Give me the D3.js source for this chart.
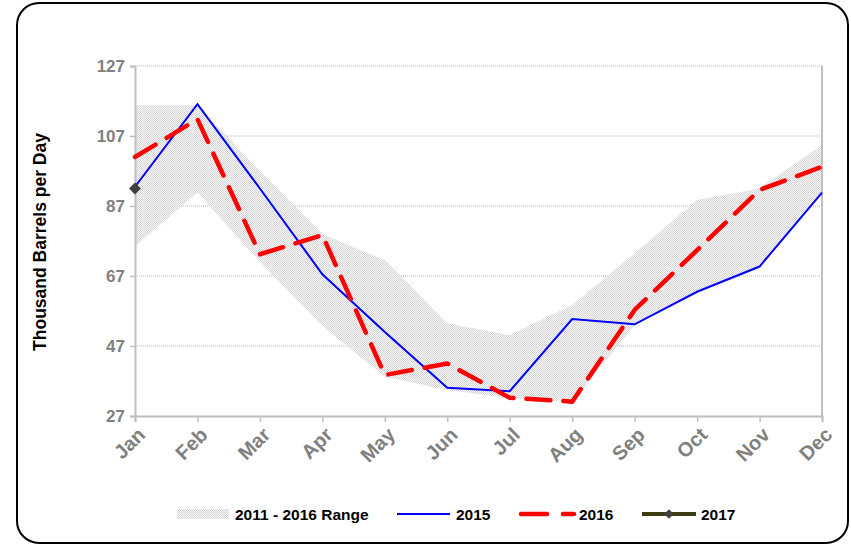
<!DOCTYPE html>
<html>
<head>
<meta charset="utf-8">
<title>Thousand Barrels per Day</title>
<script src="https://d3js.org/d3.v7.min.js"></script>
<style>
  body { margin: 0; background: #fff; }
  text { font-family: "Liberation Sans", Arial, sans-serif; font-weight: bold; }
</style>
</head>
<body>
<script>
// data
var months = ["Jan","Feb","Mar","Apr","May","Jun","Jul","Aug","Sep","Oct","Nov","Dec"];
var rangeLow  = [75.5, 90.9, 71, 52.7, 38.2, 34.4, 32.1, 31, 53, 62.5, 69.7, 90.8];
var rangeHigh = [115.8, 115.8, 97, 79, 71.5, 53.5, 50.1, 58.7, 73.5, 88.7, 92, 104.4];
var y2015 = [92.5, 116.1, 92, 67.5, 51, 35.1, 34.1, 54.7, 53.2, 62.5, 69.7, 90.8];
var y2016 = [101, 111.8, 73.2, 78.7, 38.7, 42, 32.2, 31.1, 57.3, 74.4, 91.6, 98.2];
var y2017 = [92];
var yTicks = [27, 47, 67, 87, 107, 127];

var W = 851, H = 545;
var svg = d3.select("body").append("svg").attr("width", W).attr("height", H);

// outer frame
svg.append("rect").attr("x", 17).attr("y", 3).attr("width", 831).attr("height", 540)
  .attr("rx", 22).attr("fill", "#fff").attr("stroke", "#000").attr("stroke-width", 2);

// pattern for the range band
var defs = svg.append("defs");
var pat = defs.append("pattern").attr("id", "dots").attr("patternUnits", "userSpaceOnUse")
  .attr("width", 2).attr("height", 2);
pat.append("rect").attr("width", 2).attr("height", 2).attr("fill", "#fbfbfb");
pat.append("rect").attr("width", 1).attr("height", 1).attr("fill", "#d2d2d2");
pat.append("rect").attr("x", 1).attr("y", 1).attr("width", 1).attr("height", 1).attr("fill", "#d2d2d2");

var x = d3.scalePoint().domain(months).range([135, 822]);
var y = d3.scaleLinear().domain([27, 127]).range([416, 66]);

// grid
svg.append("g").selectAll("line").data(yTicks.slice(1)).enter().append("line")
  .attr("x1", 135).attr("x2", 822)
  .attr("y1", function(d){ return y(d); }).attr("y2", function(d){ return y(d); })
  .attr("stroke", "#b4b4b4").attr("stroke-width", 1).attr("stroke-dasharray", "1,1");

// range band
var area = d3.area()
  .x(function(d, i){ return x(months[i]); })
  .y0(function(d, i){ return y(rangeLow[i]); })
  .y1(function(d, i){ return y(rangeHigh[i]); });
svg.append("path").datum(months).attr("d", area).attr("fill", "url(#dots)");

// axes
var yAxis = svg.append("g").attr("transform", "translate(135,0)")
  .call(d3.axisLeft(y).tickValues(yTicks).tickSize(5).tickPadding(5).tickFormat(d3.format("d")));
var xAxis = svg.append("g").attr("transform", "translate(0,416)")
  .call(d3.axisBottom(x).tickSize(6).tickPadding(4));
[yAxis, xAxis].forEach(function(a){
  a.select(".domain").attr("stroke", "#bfbfbf").attr("stroke-width", 2);
  a.selectAll(".tick line").attr("stroke", "#bfbfbf").attr("stroke-width", 1.5);
  a.selectAll("text").attr("fill", "#808080").style("font-size", "17px")
    .style("font-family", "'Liberation Sans', Arial, sans-serif").style("font-weight", "bold");
});
xAxis.selectAll("text").attr("text-anchor", "end").attr("y", 0).attr("dy", 0)
  .style("font-size", "20px")
  .attr("transform", "translate(11,20) rotate(-45)");
// right frame of plot
svg.append("line").attr("x1", 822).attr("x2", 822).attr("y1", 66).attr("y2", 416)
  .attr("stroke", "#bfbfbf").attr("stroke-width", 2);

// series lines
var line = d3.line().x(function(d, i){ return x(months[i]); }).y(function(d){ return y(d); });
svg.append("path").datum(y2015).attr("d", line).attr("fill", "none")
  .attr("stroke", "#0000ff").attr("stroke-width", 2);
svg.append("path").datum(y2016).attr("d", line).attr("fill", "none")
  .attr("stroke", "#ff0000").attr("stroke-width", 4.5).attr("stroke-dasharray", "24,13")
  .attr("stroke-linecap", "round").attr("stroke-linejoin", "round");
svg.append("g").selectAll("path").data(y2017).enter().append("path")
  .attr("d", d3.symbol().type(d3.symbolDiamond2).size(90))
  .attr("transform", function(d, i){ return "translate(" + x(months[i]) + "," + y(d) + ")"; })
  .attr("fill", "#404040");

// y title
svg.append("text").attr("transform", "translate(46,242) rotate(-90)")
  .attr("text-anchor", "middle").style("font-size", "17.5px").attr("fill", "#000")
  .text("Thousand Barrels per Day");

// legend
var lg = svg.append("g").attr("transform", "translate(0,514)");
lg.append("rect").attr("x", 177).attr("y", -5).attr("width", 52).attr("height", 10).attr("fill", "url(#dots)");
lg.append("text").attr("x", 235).attr("y", 5.5).style("font-size", "15.5px").text("2011 - 2016 Range");
lg.append("line").attr("x1", 397).attr("x2", 450).attr("y1", 0).attr("y2", 0)
  .attr("stroke", "#0000ff").attr("stroke-width", 2);
lg.append("text").attr("x", 456).attr("y", 5.5).style("font-size", "15.5px").text("2015");
lg.append("line").attr("x1", 521).attr("x2", 574).attr("y1", 0).attr("y2", 0)
  .attr("stroke", "#ff0000").attr("stroke-width", 4.5).attr("stroke-dasharray", "26,16")
  .attr("stroke-linecap", "round");
lg.append("text").attr("x", 579).attr("y", 5.5).style("font-size", "15.5px").text("2016");
lg.append("line").attr("x1", 642).attr("x2", 696).attr("y1", 0).attr("y2", 0)
  .attr("stroke", "#3c3c10").attr("stroke-width", 4);
lg.append("path").attr("d", d3.symbol().type(d3.symbolDiamond2).size(60))
  .attr("transform", "translate(669,0)").attr("fill", "#404040");
lg.append("text").attr("x", 701).attr("y", 5.5).style("font-size", "15.5px").text("2017");
</script>
</body>
</html>
